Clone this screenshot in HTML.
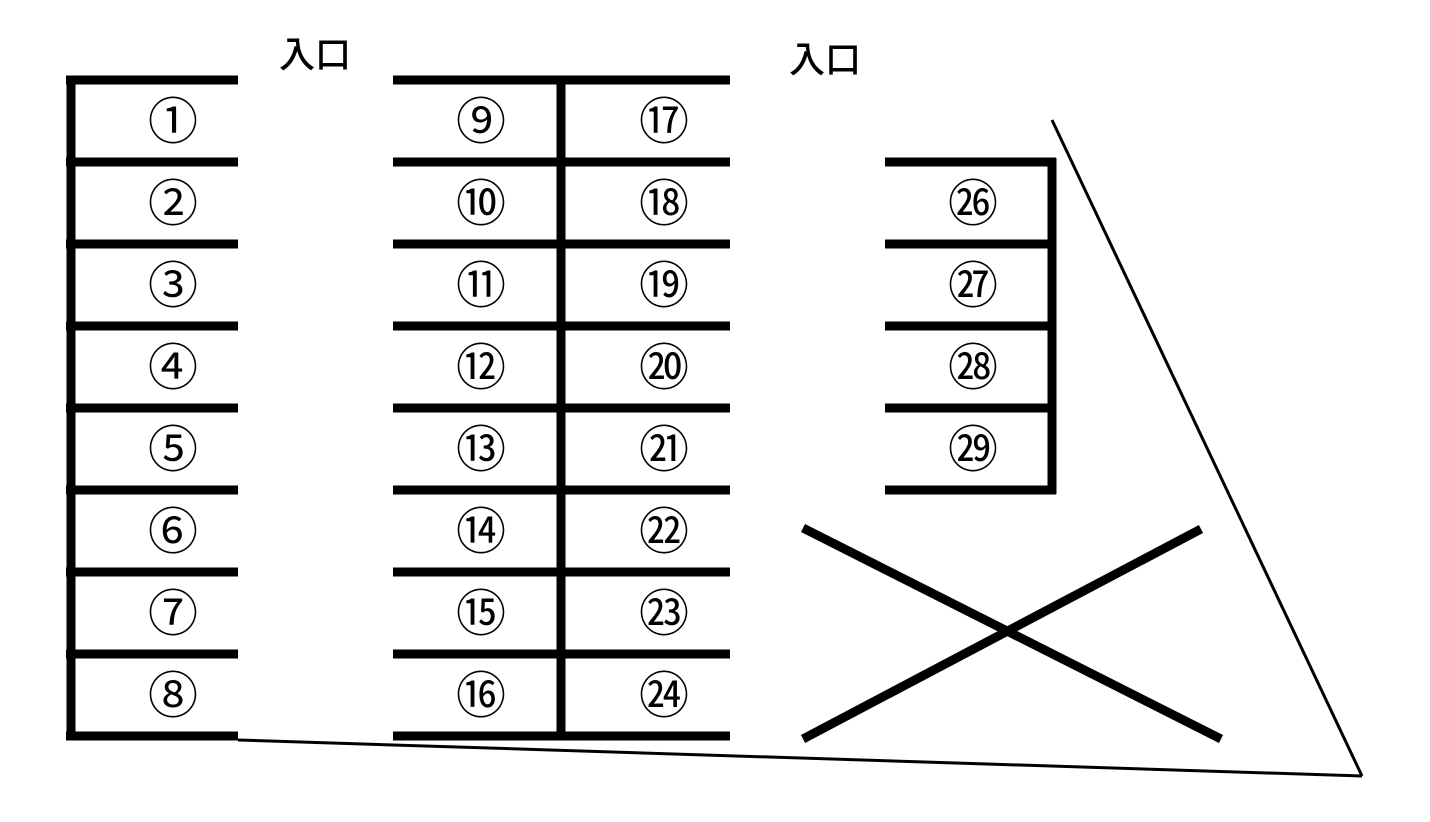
<!DOCTYPE html>
<html><head><meta charset="utf-8"><style>
html,body{margin:0;padding:0;background:#fff;}
svg text{font-family:"Liberation Sans","Noto Sans CJK JP",sans-serif;}
</style></head><body>
<svg width="1430" height="817" viewBox="0 0 1430 817" xmlns="http://www.w3.org/2000/svg">
<g stroke="#000" stroke-width="9" fill="none" stroke-linecap="butt">
<line x1="71" y1="76" x2="71" y2="740"/>
<line x1="561" y1="76" x2="561" y2="740"/>
<line x1="1052" y1="158" x2="1052" y2="494"/>
<line x1="66" y1="80" x2="238" y2="80"/><line x1="393" y1="80" x2="730" y2="80"/>
<line x1="66" y1="162" x2="238" y2="162"/><line x1="393" y1="162" x2="730" y2="162"/>
<line x1="66" y1="244" x2="238" y2="244"/><line x1="393" y1="244" x2="730" y2="244"/>
<line x1="66" y1="326" x2="238" y2="326"/><line x1="393" y1="326" x2="730" y2="326"/>
<line x1="66" y1="408" x2="238" y2="408"/><line x1="393" y1="408" x2="730" y2="408"/>
<line x1="66" y1="490" x2="238" y2="490"/><line x1="393" y1="490" x2="730" y2="490"/>
<line x1="66" y1="572" x2="238" y2="572"/><line x1="393" y1="572" x2="730" y2="572"/>
<line x1="66" y1="654" x2="238" y2="654"/><line x1="393" y1="654" x2="730" y2="654"/>
<line x1="66" y1="736" x2="238" y2="736"/><line x1="393" y1="736" x2="730" y2="736"/>
<line x1="885" y1="162" x2="1056" y2="162"/>
<line x1="885" y1="244" x2="1056" y2="244"/>
<line x1="885" y1="326" x2="1056" y2="326"/>
<line x1="885" y1="408" x2="1056" y2="408"/>
<line x1="885" y1="490" x2="1056" y2="490"/>
<line x1="803" y1="528" x2="1221" y2="739"/>
<line x1="803" y1="739" x2="1201" y2="529"/>
</g>
<g stroke="#000" stroke-width="3" fill="none">
<line x1="238" y1="740" x2="1362" y2="776"/>
<line x1="1052" y1="120" x2="1362" y2="776"/>
</g>
<g font-size="36" text-anchor="middle" fill="#000" font-weight="500">
<text x="315" y="67">入口</text>
<text x="825" y="72">入口</text>
</g>
<g font-size="50" text-anchor="middle" fill="#000" font-family="'Noto Sans CJK JP',sans-serif">
<text x="173" y="139">①</text><text x="173" y="221">②</text><text x="173" y="303">③</text><text x="173" y="385">④</text>
<text x="173" y="467">⑤</text><text x="173" y="549">⑥</text><text x="173" y="631">⑦</text><text x="173" y="713">⑧</text>
<text x="481" y="139">⑨</text><text x="481" y="221">⑩</text><text x="481" y="303">⑪</text><text x="481" y="385">⑫</text>
<text x="481" y="467">⑬</text><text x="481" y="549">⑭</text><text x="481" y="631">⑮</text><text x="481" y="713">⑯</text>
<text x="664" y="139">⑰</text><text x="664" y="221">⑱</text><text x="664" y="303">⑲</text><text x="664" y="385">⑳</text>
<text x="664" y="467">㉑</text><text x="664" y="549">㉒</text><text x="664" y="631">㉓</text><text x="664" y="713">㉔</text>
<text x="973" y="221">㉖</text><text x="973" y="303">㉗</text><text x="973" y="385">㉘</text><text x="973" y="467">㉙</text>
</g>
</svg>
</body></html>
